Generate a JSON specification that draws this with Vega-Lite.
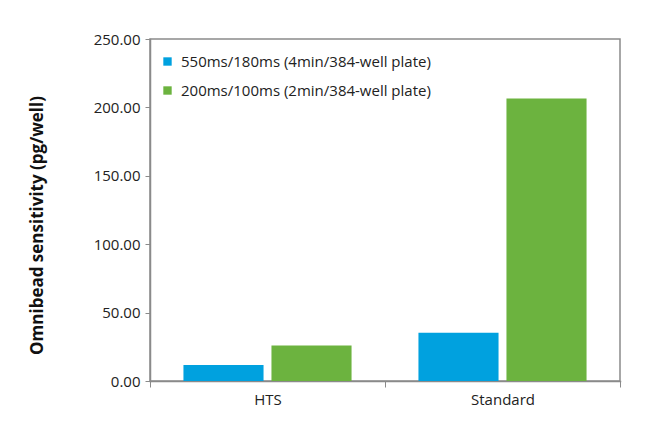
{
  "$schema": "https://vega.github.io/schema/vega-lite/v6.json",
  "width": 470,
  "height": 342,
  "autosize": {"type": "none"},
  "padding": {"left": 150, "top": 39, "right": 42, "bottom": 41},
  "background": "white",
  "data": {
    "values": [
      {"category": "HTS", "series": "550ms/180ms (4min/384-well plate)", "value": 11.7},
      {"category": "HTS", "series": "200ms/100ms (2min/384-well plate)", "value": 26.0},
      {"category": "Standard", "series": "550ms/180ms (4min/384-well plate)", "value": 35.2},
      {"category": "Standard", "series": "200ms/100ms (2min/384-well plate)", "value": 206.5}
    ]
  },
  "mark": {"type": "bar"},
  "encoding": {
    "x": {
      "field": "category",
      "type": "nominal",
      "sort": ["HTS", "Standard"],
      "scale": {"paddingInner": 0, "paddingOuter": 0},
      "axis": {
        "title": null,
        "labelAngle": 0,
        "tickBand": "extent",
        "tickSize": 6,
        "tickColor": "#8a8a8a",
        "domainColor": "#8a8a8a",
        "domainWidth": 1.5,
        "labelFontSize": 15,
        "labelFont": "Open Sans",
        "labelColor": "#222222",
        "labelPadding": 5
      }
    },
    "xOffset": {
      "field": "series",
      "type": "nominal",
      "sort": ["550ms/180ms (4min/384-well plate)", "200ms/100ms (2min/384-well plate)"],
      "scale": {"paddingInner": 0.09, "paddingOuter": 0.38}
    },
    "y": {
      "field": "value",
      "type": "quantitative",
      "scale": {"domain": [0, 250], "nice": false},
      "axis": {
        "title": "Omnibead sensitivity (pg/well)",
        "titleFont": "Open Sans",
        "titleFontSize": 17,
        "titleFontWeight": "bold",
        "titleColor": "#111111",
        "titlePadding": 47,
        "titleY": 186,
        "values": [0, 50, 100, 150, 200, 250],
        "format": ".2f",
        "grid": false,
        "tickSize": 5,
        "tickColor": "#8a8a8a",
        "domainColor": "#8a8a8a",
        "domainWidth": 1.5,
        "labelFontSize": 15,
        "labelFont": "Open Sans",
        "labelColor": "#222222",
        "labelPadding": 5
      }
    },
    "color": {
      "field": "series",
      "type": "nominal",
      "sort": ["550ms/180ms (4min/384-well plate)", "200ms/100ms (2min/384-well plate)"],
      "scale": {"range": ["#00A1DF", "#6CB33F"]},
      "legend": {
        "title": null,
        "orient": "none",
        "legendX": 10,
        "legendY": 15,
        "symbolType": "square",
        "symbolSize": 70,
        "symbolStrokeWidth": 0,
        "labelFont": "Open Sans",
        "labelFontSize": 15,
        "labelLimit": 0,
        "labelColor": "#222222",
        "rowPadding": 13,
        "labelOffset": 6
      }
    }
  },
  "config": {
    "view": {"stroke": "#8a8a8a", "strokeWidth": 1.5},
    "axis": {"domainCap": "square"}
  }
}
